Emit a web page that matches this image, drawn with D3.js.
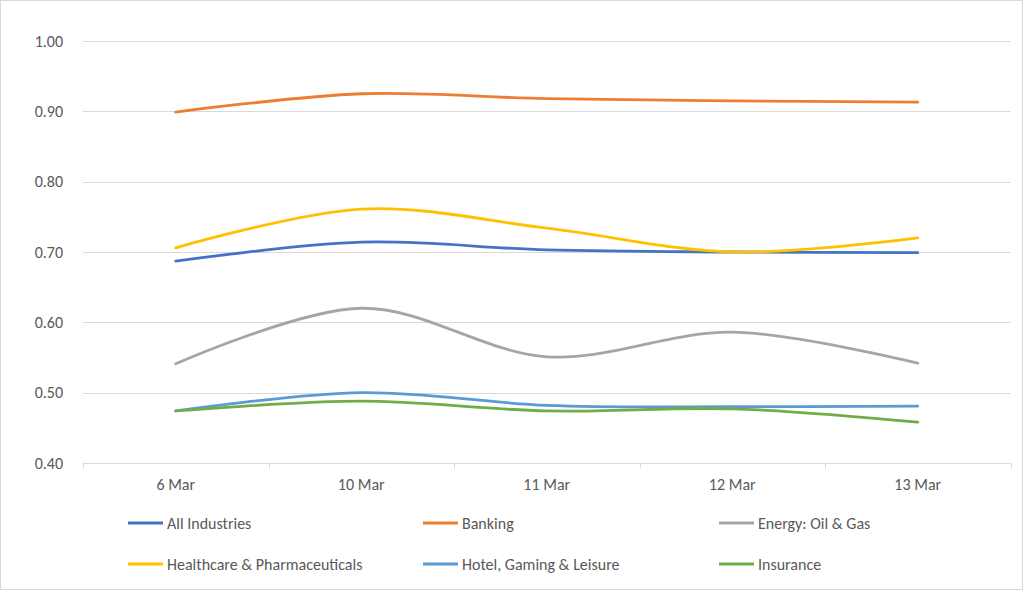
<!DOCTYPE html>
<html><head><meta charset="utf-8">
<script src="https://cdn.jsdelivr.net/npm/d3@7"></script>
<style>body{margin:0;background:#fff;}svg{display:block;font-family:Carlito,Calibri,"Open Sans","Liberation Sans",sans-serif;}</style>
</head><body><svg id="c" width="1024" height="591"></svg>
<script>
const categories = ["6 Mar","10 Mar","11 Mar","12 Mar","13 Mar"];
const seriesNames = ["All Industries","Banking","Energy: Oil & Gas","Healthcare & Pharmaceuticals","Hotel, Gaming & Leisure","Insurance"];
const allIndustries = [0.687,0.714,0.703,0.700,0.699];
const banking = [0.899,0.925,0.918,0.915,0.913];
const energy = [0.541,0.620,0.551,0.586,0.542];
const healthcare = [0.706,0.761,0.734,0.700,0.720];
const hotel = [0.474,0.500,0.482,0.480,0.481];
const insurance = [0.474,0.488,0.474,0.477,0.458];
const yTicks = [0.40,0.50,0.60,0.70,0.80,0.90,1.00];
const colors = ["#4472C4","#ED7D31","#A5A5A5","#FFC000","#5B9BD5","#70AD47"];
const seriesValues = [allIndustries,banking,energy,healthcare,hotel,insurance];

const svg = d3.select("#c");
svg.append("rect").attr("x",0.5).attr("y",0.5).attr("width",1022).attr("height",589).attr("fill","#fff").attr("stroke","#D9D9D9");

const x = d3.scaleBand().domain(categories).range([83,1010.5]);
const y = d3.scaleLinear().domain([0.4,1.0]).range([463,41]);

// gridlines
svg.append("g").selectAll("line").data(yTicks.slice(1)).join("line")
  .attr("x1",83).attr("x2",1010.5).attr("y1",d=>Math.round(y(d))+0.5).attr("y2",d=>Math.round(y(d))+0.5)
  .attr("stroke","#D9D9D9").attr("stroke-width",1);

// y labels
svg.append("g").selectAll("text").data(yTicks).join("text")
  .attr("x",63).attr("y",d=>y(d)).attr("dy","0.35em").attr("text-anchor","end")
  .attr("fill","#595959").attr("font-size",16).text(d=>d.toFixed(2));

// x axis
const xAxis = svg.append("g").attr("transform","translate(0,463.5)");
xAxis.append("line").attr("x1",83).attr("x2",1010.5).attr("stroke","#D9D9D9");
const bounds = d3.range(categories.length+1).map(i=>83+i*x.bandwidth());
xAxis.selectAll("line.t").data(bounds).join("line").attr("class","t")
  .attr("x1",d=>Math.round(d)+0.5).attr("x2",d=>Math.round(d)+0.5).attr("y1",0).attr("y2",5).attr("stroke","#D9D9D9");
xAxis.selectAll("text").data(categories).join("text")
  .attr("x",d=>x(d)+x.bandwidth()/2).attr("y",26).attr("text-anchor","middle")
  .attr("fill","#595959").attr("font-size",16).text(d=>d);

// lines
const line = d3.line().x((d,i)=>x(categories[i])+x.bandwidth()/2).y(d=>y(d)).curve(d3.curveCatmullRom.alpha(0));
svg.append("g").selectAll("path").data(seriesValues).join("path")
  .attr("d",d=>line(d)).attr("fill","none").attr("stroke",(d,i)=>colors[i])
  .attr("stroke-width",2.8).attr("stroke-linecap","round");

// legend
const legX = [128,423,719];
const legY = [523,564];
const leg = svg.append("g").selectAll("g").data(seriesNames).join("g")
  .attr("transform",(d,i)=>`translate(${legX[i%3]},${legY[Math.floor(i/3)]})`);
leg.append("line").attr("x1",0).attr("x2",35).attr("y1",0).attr("y2",0)
  .attr("stroke",(d,i)=>colors[i]).attr("stroke-width",2.8);
leg.append("text").attr("x",39).attr("y",0).attr("dy","0.35em")
  .attr("fill","#595959").attr("font-size",16).text(d=>d);
</script></body></html>
